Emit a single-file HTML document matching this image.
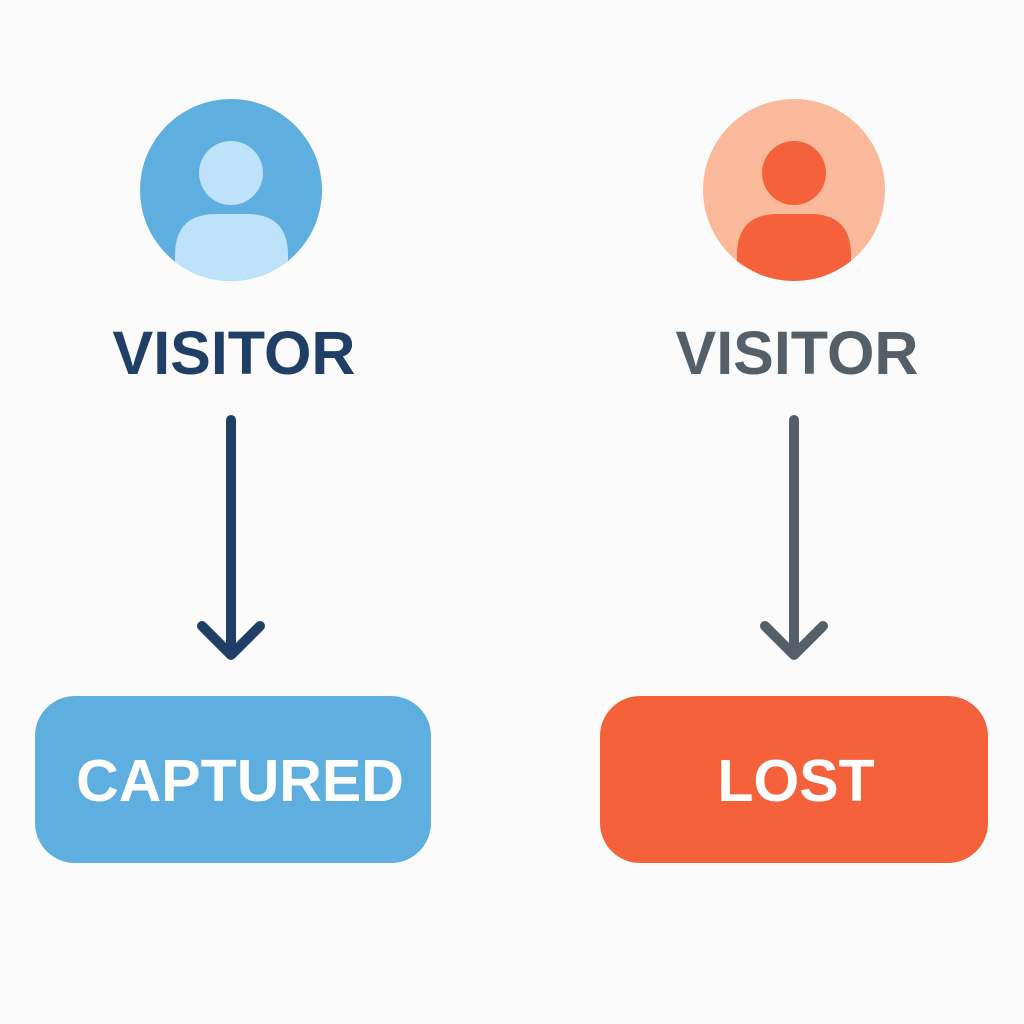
<!DOCTYPE html>
<html><head><meta charset="utf-8"><style>
html,body{margin:0;padding:0;background:#fbfbfb;}
svg{display:block;}
text{font-family:"Liberation Sans",sans-serif;font-weight:bold;text-anchor:middle;}
</style></head><body>
<svg width="1024" height="1024" viewBox="0 0 1024 1024">
<rect width="1024" height="1024" fill="#fbfbfb"/>
<defs>
<clipPath id="c1"><circle cx="231" cy="190" r="91"/></clipPath>
<clipPath id="c2"><circle cx="794" cy="190" r="91"/></clipPath>
</defs>
<circle cx="231" cy="190" r="91" fill="#5eaee0"/>
<g clip-path="url(#c1)" fill="#bee2f9">
<circle cx="231" cy="173" r="32"/>
<path d="M175 290 L175 255 Q175 214 216 214 L247 214 Q288 214 288 255 L288 290 Z"/>
</g>
<circle cx="794" cy="190" r="91" fill="#f9b99a"/>
<g clip-path="url(#c2)" fill="#f5613a">
<circle cx="794" cy="173" r="32"/>
<path d="M737 290 L737 255 Q737 214 778 214 L810 214 Q851 214 851 255 L851 290 Z"/>
</g>
<text x="234" y="374" font-size="61" fill="#1f3f66">VISITOR</text>
<text x="797" y="374" font-size="61" fill="#555f68">VISITOR</text>
<g stroke="#1f3f66" stroke-width="10" stroke-linecap="round" stroke-linejoin="round" fill="none">
<line x1="231" y1="420" x2="231" y2="652"/>
<polyline points="202,626 231,655 260,626"/>
</g>
<g stroke="#555f68" stroke-width="10" stroke-linecap="round" stroke-linejoin="round" fill="none">
<line x1="794" y1="420" x2="794" y2="652"/>
<polyline points="765,626 794,655 823,626"/>
</g>
<rect x="35" y="696" width="396" height="167" rx="40" fill="#5eaee0"/>
<rect x="600" y="696" width="388" height="167" rx="40" fill="#f5613a"/>
<text x="240" y="801" font-size="59" fill="#ffffff">CAPTURED</text>
<text x="796" y="801" font-size="59" fill="#ffffff">LOST</text>
</svg>
</body></html>
